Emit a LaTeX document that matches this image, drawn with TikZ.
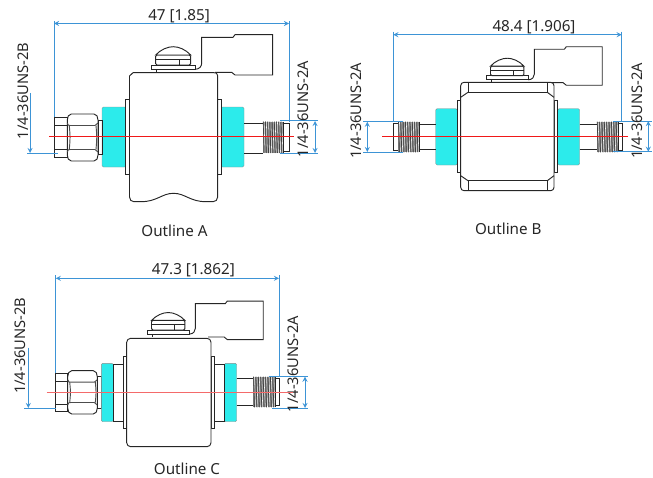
\documentclass[tikz,border=0pt]{standalone}
\usepackage{fontspec}
\setmainfont{Noto Sans}
\usepackage{tikz}
\definecolor{dimblue}{HTML}{3D94D6}
\definecolor{padcyan}{HTML}{2CEBEB}
\definecolor{threadgrey}{HTML}{7A7A7A}
\definecolor{axisred}{HTML}{F01818}
\definecolor{axispale}{HTML}{F46A6A}
\newcommand{\threadpart}[4]{%
\fill[threadgrey] (#1,#3) rectangle (#2,#4);
\foreach \t in {0,...,8} {
   \draw[draw=white,line width=0.4pt] ({#1+(#2-#1)*(\t+0.5)/9},#3) -- ({#1+(#2-#1)*(\t+0.9)/9},#4);
   \draw[draw=black!75,line width=0.5pt] ({#1+(#2-#1)*(\t+0.1)/9},#3) -- ({#1+(#2-#1)*(\t+0.5)/9},#4);
}
\draw[part] (#2,#3) -- (#2,#4);
}
\newcommand{\hexnut}[4]{%
\draw[part,rounded corners=1.5] ({#1+2},#3) -- ({#2-2},#3) -- (#2,{#3+4}) -- (#2,{#4-4}) -- ({#2-2},#4) -- ({#1+2},#4) -- (#1,{#4-4}) -- (#1,{#3+4}) -- cycle;
\draw[partthin] (#1,{#3+9}) .. controls ({#1+1},{#3+11.5}) .. ({#1+3},{#3+11.5}) -- ({#2-3},{#3+11.5}) -- (#2,{#3+9});
\draw[partthin] (#1,{#4-9}) .. controls ({#1+1},{#4-11.5}) .. ({#1+3},{#4-11.5}) -- ({#2-3},{#4-11.5}) -- (#2,{#4-9});
\draw[partthin] ({#1+2},{#3+11.5}) .. controls ({#1+3},{(#3+#4)/2}) .. ({#1+2},{#4-11.5});
\draw[partthin] ({#2-2},{#3+11.5}) .. controls ({#2-1},{(#3+#4)/2}) .. ({#2-2},{#4-11.5});
}
\newcommand{\screwtab}{%
\draw[part,fill=white] (43.3,4.3) .. controls (48,4.3) and (50,1) .. (50,-2) -- (50,-27.7) -- (81.3,-27.7) -- (83.3,-30.3) -- (121,-30.3) -- (121,10) -- (83.3,10) -- (80,7.3) -- (63.3,7.3);
\draw[part,fill=white] (0,0) rectangle (43.3,4.3);
\draw[part,fill=white,rounded corners=1] (4,-10) rectangle (39,0);
\draw[part] (4,-5.7) -- (39,-5.7) (27.6,-5.7) -- (27.6,0);
\draw[part,fill=white] (4,-10) .. controls (9,-15.5) and (16,-18.3) .. (21.5,-18.3) .. controls (27,-18.3) and (34,-15.5) .. (39,-10) -- cycle;
\draw[part] (5,4.3) -- (5,7.3);
}
\begin{document}
\begin{tikzpicture}[x=0.75pt,y=-0.75pt,
  part/.style={draw=black!85,line width=0.7pt},
  partthin/.style={draw=black!70,line width=0.7pt},
  pad/.style={fill=padcyan,draw=black!45,line width=0.3pt,rounded corners=1},
  dimline/.style={draw=dimblue,line width=0.7pt,>=stealth},
  lbl/.style={font=\fontsize{11.4}{13}\selectfont,inner sep=0pt,text=black!85},
  threadlbl/.style={font=\fontsize{11}{13}\selectfont,inner sep=0pt,text=black!85,rotate=90}]
\useasboundingbox (0,0) rectangle (653,478);
% Outline A
\begin{scope}[shift={(151.7,65)}]
\screwtab
\end{scope}
\draw[pad] (102,107) rectangle (126,167);
\draw[pad] (221,107) rectangle (244,167);
\draw[part] (54.5,117) rectangle (67.3,157);
\draw[part] (54.5,125) -- (67.3,125) (54.5,149) -- (67.3,149);
\hexnut{67.3}{98}{114}{161}
\draw[part] (98,120) rectangle (102,154);
\draw[part,fill=white] (125.5,99) rectangle (129.5,174);
\draw[part,fill=white] (217.7,99) rectangle (221,174);
\draw[part,fill=white] (133,72.7) -- (214,72.7) .. controls (216.5,72.7) .. (217.7,76) -- (217.7,197) .. controls (217.7,200) and (215.5,201.7) .. (213,201.7) -- (206,201.7) .. controls (190,201.7) and (185,193.3) .. (173.5,193.3) .. controls (162,193.3) and (157,201.7) .. (141,201.7) -- (134,201.7) .. controls (131.5,201.7) and (129.5,200) .. (129.5,197) -- (129.5,76) .. controls (130.5,74) .. (133,72.7) -- cycle;
\draw[part] (244,123) -- (263,123) (244,153) -- (263,153);
\threadpart{263}{283}{121.5}{153}
\draw[part] (283,123) -- (289,123) -- (289,151) -- (283,151);
\draw[dimline] (54,21) -- (54,117) (289,21) -- (289,122);
\draw[dimline,<->] (54,23.5) -- (289,23.5);
\draw[dimline,->] (30,93) -- (30,153);
\draw[dimline] (27,153.7) -- (58,153.7);
\draw[dimline] (280,120.5) -- (318,120.5) (280,153) -- (318,153);
\draw[dimline,<->] (315,121) -- (315,153);
\node[lbl] (lenA) at (179,16) {47 [1.85]};
\node[threadlbl] (threadAl) at (23,91) {1/4-36UNS-2B};
\node[threadlbl] (threadAr) at (303,109) {1/4-36UNS-2A};
\node[lbl] (nameA) at (174.5,230.5) {Outline A};
% Outline B
\begin{scope}[shift={(486.7,75.7)},scale=0.955]
\screwtab
\end{scope}
\draw[pad] (435.7,108.7) rectangle (457.3,165);
\draw[pad] (557.7,108.7) rectangle (579.7,165);
\draw[part] (393.3,123.3) -- (398.3,123.3) (393.3,150) -- (398.3,150) (393.3,123.3) -- (393.3,150);
\threadpart{398.3}{419}{121.7}{152.3}
\draw[part] (419,124) -- (435.7,124) (419,149.3) -- (435.7,149.3);
\draw[part,fill=white] (457.3,100.7) rectangle (460.7,172);
\draw[part,fill=white] (554,100.7) rectangle (557.7,172);
\draw[part,fill=white,rounded corners=2.5] (460.7,82.3) rectangle (554,190.7);
\draw[part] (468,82.3) rectangle (547.3,92.3) (468,180.7) rectangle (547.3,190.7);
\draw[part] (460.7,97.3) -- (468,92.3) (554,97.3) -- (547.3,92.3);
\draw[part] (460.7,175.7) -- (468,180.7) (554,175.7) -- (547.3,180.7);
\draw[part] (579.7,124) -- (597,124) (579.7,149.3) -- (597,149.3);
\threadpart{597}{618.3}{121.7}{152.3}
\draw[part] (618.3,123.3) -- (622,123.3) -- (622,150) -- (618.3,150);
\draw[dimline] (393.3,31.7) -- (393.3,121.7) (621.7,31.7) -- (621.7,120.7);
\draw[dimline,<->] (393.3,34.7) -- (621.7,34.7);
\draw[dimline] (363.3,121.7) -- (403,121.7) (363.3,152) -- (403,152);
\draw[dimline,<->] (367.3,121.7) -- (367.3,152);
\draw[dimline] (613.3,121) -- (651.7,121) (613.3,151.7) -- (651.7,151.7);
\draw[dimline,<->] (648.3,121) -- (648.3,151.7);
\node[lbl] (lenB) at (534,26.7) {48.4 [1.906]};
\node[threadlbl] (threadBl) at (356.7,110.8) {1/4-36UNS-2A};
\node[threadlbl] (threadBr) at (637.7,110.8) {1/4-36UNS-2A};
\node[lbl] (nameB) at (508.3,229) {Outline B};
% Outline C
\begin{scope}[shift={(147.7,330)},scale=0.955]
\screwtab
\end{scope}
\draw[part] (55.7,373.3) rectangle (67.7,411.7);
\draw[part] (55.7,381) -- (67.7,381) (55.7,404) -- (67.7,404);
\hexnut{67.7}{97.3}{370.7}{414}
\draw[part] (97.3,376.7) rectangle (101.3,408.7);
\draw[pad] (101.3,363.3) rectangle (113.3,421.7);
\draw[pad] (224.3,363.3) rectangle (236.7,421.7);
\draw[part] (113.3,364) rectangle (123.3,421);
\draw[part] (214.7,364) rectangle (224.3,421);
\draw[part,fill=white] (123.3,356.7) rectangle (126.7,428.3);
\draw[part,fill=white] (211,356.7) rectangle (214.7,428.3);
\draw[part,fill=white,rounded corners=3] (126.7,338.3) rectangle (211,446.7);
\draw[part] (236.7,378.3) -- (253.3,378.3) (236.7,405) -- (253.3,405);
\threadpart{253.3}{275}{376.7}{407.3}
\draw[part] (275,378.3) -- (279.3,378.3) -- (279.3,405) -- (275,405);
\draw[dimline] (55.7,275.3) -- (55.7,373.3) (279,275.3) -- (279,376.7);
\draw[dimline,<->] (55.7,278.3) -- (279,278.3);
\draw[dimline,->] (28.3,347.7) -- (28.3,408);
\draw[dimline] (24.3,408.3) -- (55.7,408.3);
\draw[dimline] (269.3,376.7) -- (308.3,376.7) (272,408) -- (308.3,408);
\draw[dimline,<->] (305,376.7) -- (305,408);
\node[lbl] (lenC) at (193.3,270) {47.3 [1.862]};
\node[threadlbl] (threadCl) at (20,345.8) {1/4-36UNS-2B};
\node[threadlbl] (threadCr) at (293.3,364) {1/4-36UNS-2A};
\node[lbl] (nameC) at (187,469) {Outline C};
% centre lines
\foreach \xa/\xb/\ya/\axiscol in {49/294/136.8/axisred,382.3/627.7/136.7/axisred,46.7/293.3/392.2/axispale} {
   \draw[draw=\axiscol,line width=0.9pt] (\xa,\ya) -- (\xb,\ya);
}
\end{tikzpicture}
\end{document}
